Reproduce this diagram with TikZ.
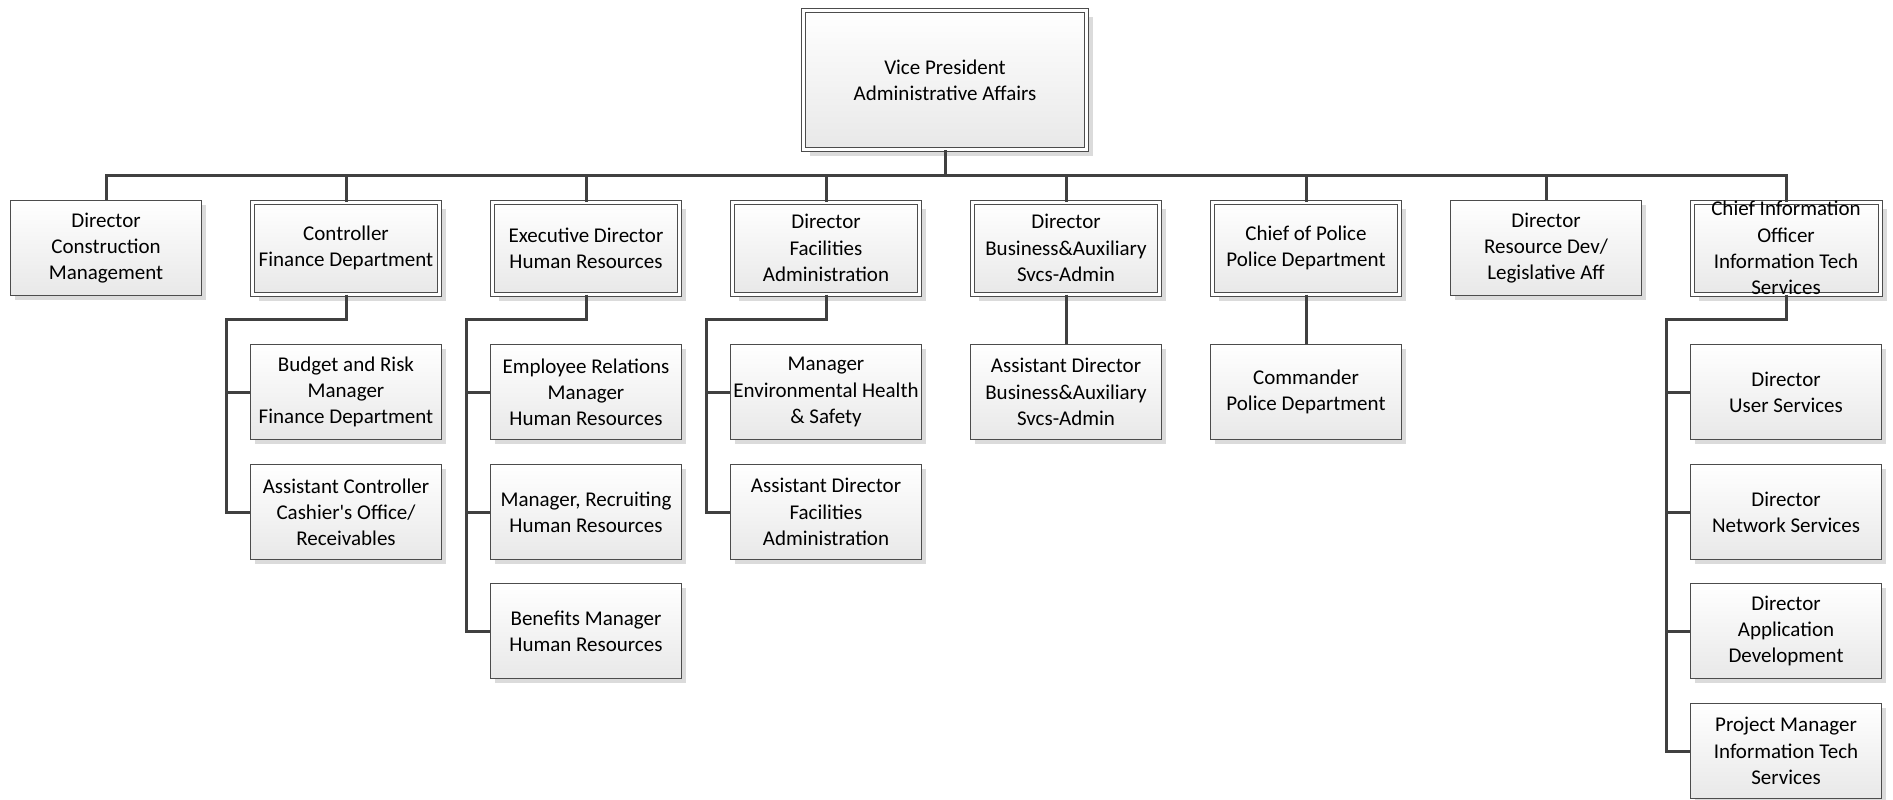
\documentclass[tikz,border=0pt]{standalone}
\usepackage{fontspec}
\setmainfont{Carlito}
\usetikzlibrary{positioning,shadows,calc}

\begin{document}
\begin{tikzpicture}[
  x=0.02cm, y=-0.02cm,
  font=\fontsize{11.95pt}{14.9pt}\selectfont,
  post/.style      = {rectangle, draw=black!70, line width=0.02cm,
                      top color=white, bottom color=black!9,
                      minimum width=3.82cm, minimum height=1.90cm,
                      align=center, inner sep=1pt,
                      drop shadow={shadow xshift=0.09cm, shadow yshift=-0.09cm, fill=black!14, opacity=1}},
  headpost/.style  = {rectangle, draw=black!70, line width=0.02cm,
                      double=white, double distance=0.06cm,
                      top color=white, bottom color=black!9,
                      minimum width=3.76cm, minimum height=1.84cm,
                      align=center, inner sep=1pt,
                      drop shadow={shadow xshift=0.13cm, shadow yshift=-0.13cm, fill=black!14, opacity=1}},
  vptop/.style     = {headpost, minimum width=5.66cm, minimum height=2.80cm},
  lbl/.style       = {align=center, inner sep=0pt},
  link/.style      = {draw=black!75, line width=0.06cm},
]
\useasboundingbox (0,0) rectangle (1893,799);

% Vice president at the top
\node[vptop] (vp) at (945,80) {Vice President\\Administrative Affairs};

% Directors hanging from the bus
\node[post]     (cons)   at (106,248)  {Director\\Construction\\Management};
\node[headpost] (ctrl)   at (346,248)  {Controller\\Finance Department};
\node[headpost] (hr)     at (586,248)  {Executive Director\\Human Resources};
\node[headpost] (fac)    at (826,248)  {Director\\Facilities\\Administration};
\node[headpost] (biz)    at (1066,248) {Director\\Business\&Auxiliary\\Svcs-Admin};
\node[headpost] (police) at (1306,248) {Chief of Police\\Police Department};
\node[post]     (resdev) at (1546,248) {Director\\Resource Dev/\\Legislative Aff};
\node[headpost, label={[lbl]center:Chief Information\\Officer\\Information Tech\\Services}] (cio) at (1786,248) {};

% Finance
\node[post] (budget)   at (346,392) {Budget and Risk\\Manager\\Finance Department};
\node[post] (asstctrl) at (346,512) {Assistant Controller\\Cashier\textquotesingle s Office/\\Receivables};

% Human resources
\node[post] (emprel)   at (586,392) {Employee Relations\\Manager\\Human Resources};
\node[post] (recruit)  at (586,512) {Manager, Recruiting\\Human Resources};
\node[post] (benefits) at (586,631) {Benefits Manager\\Human Resources};

% Facilities
\node[post] (envhealth) at (826,392) {Manager\\Environmental Health\\\& Safety};
\node[post] (asstfac)   at (826,512) {Assistant Director\\Facilities\\Administration};

% Business, police
\node[post] (asstbus)   at (1066,392) {Assistant Director\\Business\&Auxiliary\\Svcs-Admin};
\node[post] (commander) at (1306,392) {Commander\\Police Department};

% Information tech
\node[post] (usersvc) at (1786,392) {Director\\User Services};
\node[post] (netsvc)  at (1786,512) {Director\\Network Services};
\node[post] (appdev)  at (1786,631) {Director\\Application\\Development};
\node[post] (projmgr) at (1786,751) {Project Manager\\Information Tech\\Services};

% Bus under the vice president
\coordinate (busline) at (945,175);
\draw[link] (vp.south) -- (busline);
\foreach \n in {cons,ctrl,hr,fac,biz,police,resdev,cio}
  \draw[link] (busline) -| (\n.north);

% Rails down the left of each group
\draw[link] (ctrl.south) |- ++(-120,25) |- (asstctrl.west);
\draw[link] (budget.west) -- ++(-24,0);
\draw[link] (hr.south) |- ++(-120,25) |- (benefits.west);
\foreach \c in {emprel,recruit}
  \draw[link] (\c.west) -- ++(-24,0);
\draw[link] (fac.south) |- ++(-120,25) |- (asstfac.west);
\draw[link] (envhealth.west) -- ++(-24,0);
\draw[link] (cio.south) |- ++(-120,25) |- (projmgr.west);
\foreach \c in {usersvc,netsvc,appdev}
  \draw[link] (\c.west) -- ++(-24,0);

% Single reports
\draw[link] (biz.south) -- (asstbus.north);
\draw[link] (police.south) -- (commander.north);
\end{tikzpicture}
\end{document}
